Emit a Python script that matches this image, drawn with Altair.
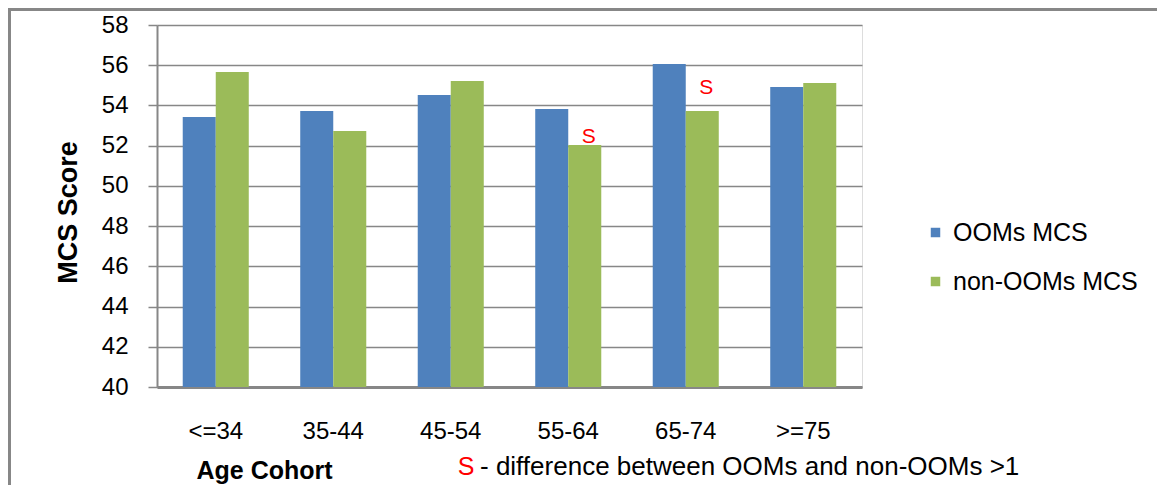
import altair as alt
import pandas as pd

categories = ["<=34", "35-44", "45-54", "55-64", "65-74", ">=75"]
series_names = ["OOMs MCS", "non-OOMs MCS"]
ooms_mcs = [53.42, 53.72, 54.52, 53.82, 56.06, 54.92]
non_ooms_mcs = [55.66, 52.73, 55.21, 52.03, 53.72, 55.11]
colors = ["#4F81BD", "#9BBB59"]

s_categories = ["55-64", "65-74"]
s_y = [52.43, 54.87]

rows = []
for c, a, b in zip(categories, ooms_mcs, non_ooms_mcs):
    rows.append({"cohort": c, "series": series_names[0], "score": a})
    rows.append({"cohort": c, "series": series_names[1], "score": b})
df = pd.DataFrame(rows)
sdf = pd.DataFrame({"cohort": s_categories, "series": [series_names[1]] * 2, "score": s_y, "label": ["S", "S"]})

FONT = "Liberation Sans"
GRAY = "#878787"

x_enc = alt.X("cohort:N", sort=categories,
              scale=alt.Scale(paddingInner=0.438, paddingOuter=0.219),
              axis=alt.Axis(title="Age Cohort", labelAngle=0, labelFontSize=24, labelFont=FONT,
                            labelColor="black", labelPadding=32, ticks=False, tickSize=0,
                            domainColor=GRAY, domainWidth=3, grid=False,
                            titleFont=FONT, titleFontSize=25, titleFontWeight="bold", titleColor="black",
                            titleX=107, titleY=83, titleAlign="center", titleBaseline="middle",
                            titleAnchor="start"))
y_enc = alt.Y("score:Q", scale=alt.Scale(domain=[40, 58], zero=False, nice=False),
              axis=alt.Axis(title="MCS  Score", values=list(range(40, 59, 2)), labelFontSize=24,
                            labelFont=FONT, labelColor="black", labelPadding=20, tickSize=9,
                            tickColor=GRAY, tickWidth=1.5, domainColor=GRAY, domainWidth=2,
                            gridColor=GRAY, gridWidth=1.5,
                            titleFont=FONT, titleFontSize=27, titleFontWeight="bold", titleColor="black",
                            titleAngle=270, titleX=-89, titleY=187, titleAlign="center",
                            titleBaseline="middle"))

bars = alt.Chart(df).mark_bar().encode(
    x=x_enc,
    xOffset=alt.XOffset("series:N", sort=series_names, scale=alt.Scale(paddingInner=0, paddingOuter=0)),
    y=y_enc,
    y2=alt.datum(40),
    color=alt.Color("series:N", sort=series_names,
                    scale=alt.Scale(domain=series_names, range=colors),
                    legend=alt.Legend(title=None, orient="none", legendX=766, legendY=195,
                                      symbolType="square", symbolSize=90, symbolStrokeWidth=0,
                                      labelFontSize=25, labelFont=FONT, labelColor="black",
                                      labelLimit=400, labelOffset=5, rowPadding=23, padding=0)),
)

s_text = alt.Chart(sdf).mark_text(color="#FF0000", fontSize=21, font=FONT, baseline="middle", dx=4).encode(
    x=alt.X("cohort:N", sort=categories),
    xOffset=alt.XOffset("series:N", sort=series_names),
    y=alt.Y("score:Q"),
    text="label:N",
)

one = pd.DataFrame({"a": [0]})
frame_left = alt.Chart(one).mark_rule(color=GRAY, strokeWidth=3).encode(
    x=alt.value(-147.5), y=alt.value(-15.5), y2=alt.value(470))
frame_top = alt.Chart(one).mark_rule(color=GRAY, strokeWidth=3).encode(
    x=alt.value(-149), x2=alt.value(1000), y=alt.value(-15.5))

foot_s = alt.Chart(one).mark_text(color="#FF0000", fontSize=25, font=FONT, baseline="middle", align="center").encode(
    x=alt.value(309), y=alt.value(442), text=alt.value("S"))
foot_t = alt.Chart(one).mark_text(color="black", fontSize=26, font=FONT, baseline="middle", align="left").encode(
    x=alt.value(323), y=alt.value(442), text=alt.value("- difference between OOMs and non-OOMs >1"))

chart = alt.layer(bars, s_text, frame_left, frame_top, foot_s, foot_t).properties(
    width=705, height=362,
    autosize=alt.AutoSizeParams(type="none"),
    padding={"left": 149, "top": 17, "right": 295, "bottom": 98},
).configure_view(stroke=None).configure(background="white")

chart.save("out.html", embed_options={"renderer": "svg", "actions": False})
